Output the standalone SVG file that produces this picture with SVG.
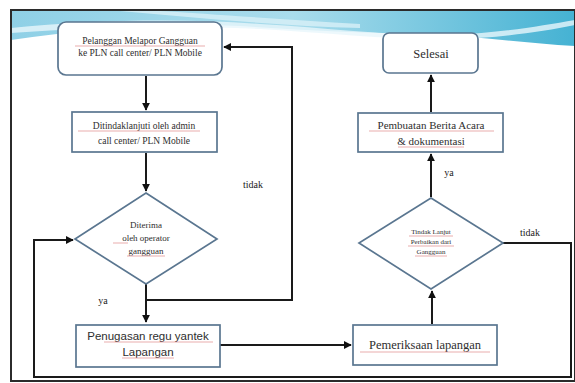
<svg xmlns="http://www.w3.org/2000/svg" width="575" height="383" viewBox="0 0 575 383">
<defs>
<linearGradient id="sky" x1="0" y1="0" x2="1" y2="0">
<stop offset="0" stop-color="#8fd0e6"/>
<stop offset="0.5" stop-color="#a9dcec"/>
<stop offset="1" stop-color="#45b2d3"/>
</linearGradient>
<marker id="ah" viewBox="0 0 10 10" refX="9" refY="5" markerWidth="4" markerHeight="4" orient="auto">
<path d="M0,0 L10,5 L0,10 z" fill="#111"/>
</marker>
<style>
.node{fill:#fff;stroke:#5a7690;stroke-width:1.7}
.line{fill:none;stroke:#1a1a1a;stroke-width:2}
.t{font-family:"Liberation Serif",serif;fill:#2e2e2e;text-anchor:middle}
.lbl{font-family:"Liberation Serif",serif;fill:#222;font-size:10px}
.sq{stroke:#e08a8a;stroke-width:0.7;fill:none}
</style>
</defs>
<rect width="575" height="383" fill="#fff"/>
<g id="background">
<path d="M11,11 L575,11 L575,46 C520,43 470,35 420,34 C360,33 300,30 240,26 C160,22 80,30 11,40 Z" fill="url(#sky)"/>
<path d="M11,28 C90,20 180,18 260,24 C330,28 390,36 450,35 C500,33 540,26 575,20 L575,25 C540,32 500,38 450,39 C390,40 330,33 260,29 C180,25 90,27 11,33 Z" fill="#e9f6fb" opacity="0.8"/>
<path d="M120,11 C200,18 280,26 360,28 L360,24 C290,20 210,14 160,11 Z" fill="#d8f0f8" opacity="0.8"/>
<rect x="11" y="10" width="564" height="371" fill="none" stroke="#2b2b2b" stroke-width="2"/>
</g>
<g id="connectors">
<path class="line" d="M146,76 L146,110" marker-end="url(#ah)"/>
<path class="line" d="M146,153 L146,191" marker-end="url(#ah)"/>
<path class="line" d="M146,284 L146,322" marker-end="url(#ah)"/>
<path class="line" d="M147,300 L292,300 L292,47 L224,47" marker-end="url(#ah)"/>
<path class="line" d="M220,345 L351,345" marker-end="url(#ah)"/>
<path class="line" d="M432,324 L432,291" marker-end="url(#ah)"/>
<path class="line" d="M431,197 L431,154" marker-end="url(#ah)"/>
<path class="line" d="M431,112 L431,75" marker-end="url(#ah)"/>
<path class="line" d="M503,243 L571,243 L571,377 L34,377 L34,240 L73,240" marker-end="url(#ah)"/>
</g>
<g id="labels">
<text class="lbl" x="253" y="188" text-anchor="middle">tidak</text>
<text class="lbl" x="103" y="304" text-anchor="middle">ya</text>
<text class="lbl" x="449" y="176" text-anchor="middle">ya</text>
<text class="lbl" x="530" y="236" text-anchor="middle">tidak</text>
</g>
<g id="node-lapor">
<rect class="node" x="58" y="22" width="164" height="53" rx="8"/>
<text class="t" x="140" y="44" font-size="9.5">Pelanggan Melapor Gangguan</text>
<text class="t" x="140" y="56" font-size="9.5">ke PLN call center/ PLN Mobile</text>
<path class="sq" d="M75,46 L205,46"/>
</g>
<g id="node-tindaklanjut">
<rect class="node" x="72" y="112" width="145" height="40"/>
<text class="t" x="144" y="129" font-size="9.5">Ditindaklanjuti oleh admin</text>
<text class="t" x="144" y="144" font-size="9.5">call center/ PLN Mobile</text>
<path class="sq" d="M78,131 L200,131"/>
</g>
<g id="node-diterima">
<polygon class="node" points="146,193 217,239 146,284 75,239"/>
<text class="t" x="146" y="228" font-size="9">Diterima</text>
<text class="t" x="146" y="241" font-size="9">oleh operator</text>
<text class="t" x="146" y="254" font-size="9">gangguan</text>
<path class="sq" d="M113,243 L128,243 M127,256 L165,256"/>
</g>
<g id="node-penugasan">
<rect class="node" x="76" y="325" width="144" height="42"/>
<text class="t" x="148" y="340" font-size="11.5" style="font-family:'Liberation Sans',sans-serif">Penugasan regu yantek</text>
<text class="t" x="148" y="356" font-size="11.5" style="font-family:'Liberation Sans',sans-serif">Lapangan</text>
<path class="sq" d="M104,342 L213,342 M122,358 L174,358"/>
</g>
<g id="node-pemeriksaan">
<rect class="node" x="353" y="325" width="144" height="40"/>
<text class="t" x="425" y="349" font-size="12.5">Pemeriksaan lapangan</text>
<path class="sq" d="M360,352 L490,352"/>
</g>
<g id="node-tindak">
<polygon class="node" points="431,198 503,243 431,289 359,243"/>
<text class="t" x="431" y="234" font-size="7">Tindak Lanjut</text>
<text class="t" x="431" y="244" font-size="7">Perbaikan dari</text>
<text class="t" x="431" y="254" font-size="7">Gangguan</text>
<path class="sq" d="M409,236 L453,236 M408,246 L454,246 M415,256 L447,256"/>
</g>
<g id="node-berita">
<rect class="node" x="358" y="113" width="145" height="39"/>
<text class="t" x="431" y="129" font-size="11">Pembuatan Berita Acara</text>
<text class="t" x="431" y="145" font-size="11">&amp; dokumentasi</text>
<path class="sq" d="M369,131 L494,131 M398,147 L464,147"/>
</g>
<g id="node-selesai">
<rect class="node" x="383" y="33" width="95" height="40" rx="6"/>
<text class="t" x="431" y="58" font-size="12.5">Selesai</text>
</g>
</svg>
